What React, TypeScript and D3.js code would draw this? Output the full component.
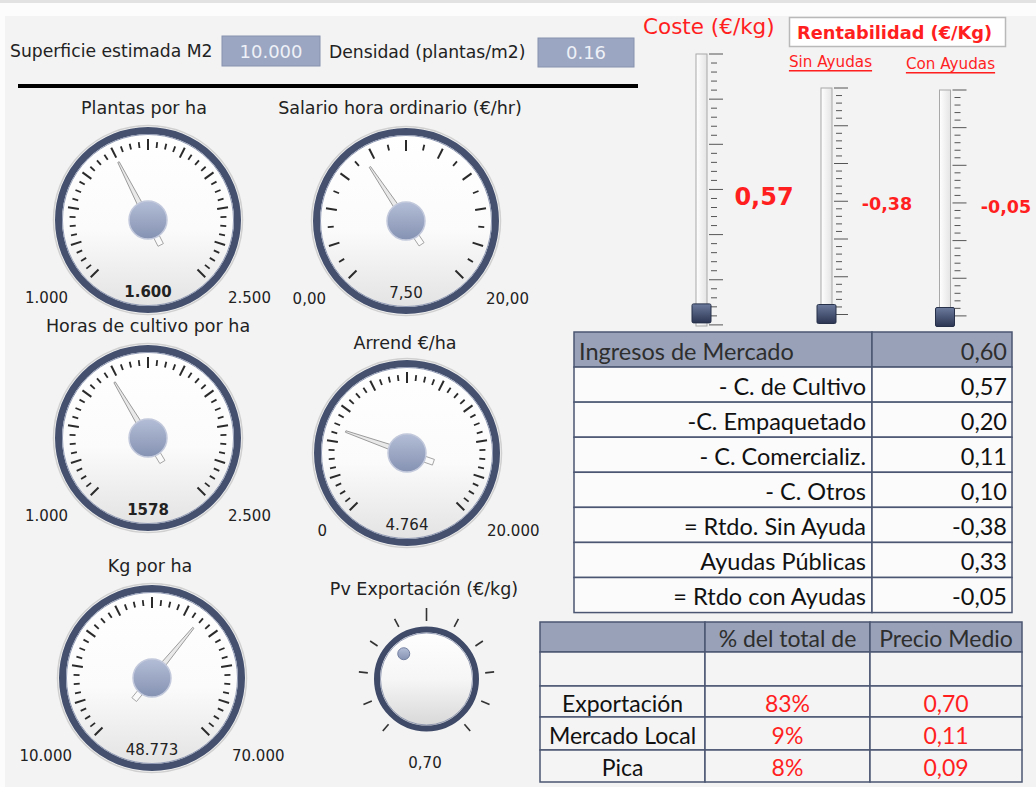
import React, { useEffect } from "react";
import * as d3 from "d3";

// ---------- locale ----------
const es = d3.formatLocale({ decimal: ",", thousands: ".", grouping: [3], currency: ["", " €"], minus: "-" } as any);

// ---------- data ----------
const inputLabels = ["Superficie estimada M2", "Densidad (plantas/m2)"];
const inputValues = ["10.000", "0.16"];

const gaugeTitles = ["Plantas por ha", "Salario hora ordinario (€/hr)", "Horas de cultivo por ha", "Arrend €/ha", "Kg por ha"];
const gaugeMin = [1000, 0, 1000, 0, 10000];
const gaugeMax = [2500, 20, 2500, 20000, 70000];
const gaugeValues = [1600, 7.5, 1578, 4764, 48773];
const gaugeRangeFormat = [",.0f", ",.2f", ",.0f", ",.0f", ",.0f"];
const gaugeValueFormat = [",.0f", ",.2f", ".0f", ",.0f", ",.0f"];
const gaugeValueBold = [true, false, true, false, false];
const gaugeTickCount = [40, 20, 40, 40, 40];

const knobTitle = "Pv Exportación (€/kg)";
const knobDomain = [0, 2];
const knobValue = 0.7;

const sliderTitle = "Coste (€/kg)";
const rentTitle = "Rentabilidad (€/Kg)";
const sliderLabels = ["", "Sin Ayudas", "Con Ayudas"];
const sliderValues = [0.57, -0.38, -0.05];
const sliderDomain = [0, 40];

const resultLabels = ["Ingresos de Mercado", "- C. de Cultivo", "-C. Empaquetado", "- C. Comercializ.", "- C. Otros", "= Rtdo. Sin Ayuda", "Ayudas Públicas", "= Rtdo con Ayudas"];
const resultValues = [0.6, 0.57, 0.2, 0.11, 0.1, -0.38, 0.33, -0.05];

const marketHeaders = ["", "% del total de", "Precio Medio"];
const marketLabels = ["Exportación", "Mercado Local", "Pica"];
const marketShares = [0.83, 0.09, 0.08];
const marketPrices = [0.7, 0.11, 0.09];

// ---------- layout ----------
const W = 1036, H = 787;
const gaugeLayout = [
  { cx: 148, cy: 220, tx: 144, ty: 108 },
  { cx: 406, cy: 221, tx: 400, ty: 108 },
  { cx: 148, cy: 438, tx: 148, ty: 326 },
  { cx: 407, cy: 453, tx: 405, ty: 343 },
  { cx: 152, cy: 678, tx: 150, ty: 566 },
];
const sliderLayout = [
  { x: 696, top: 54, bottom: 326, spacing: 9.03 },
  { x: 821, top: 88, bottom: 323, spacing: 7.55 },
  { x: 939.5, top: 90, bottom: 326, spacing: 7.53 },
];
const sliderValueLayout = [
  { x: 764, y: 197, size: 24 },
  { x: 887, y: 204, size: 17.5 },
  { x: 1006, y: 207, size: 17.5 },
];

const SANS = "'DejaVu Sans', Verdana, sans-serif";
const TAB = "Lato, 'Open Sans', sans-serif";
const RED = "#ff1f1f";
const NAVY = "#44506e";
const TITLE_SIZE = 17.5;
const NUM_SIZE = 15;

const rad = (a: number) => (a * Math.PI) / 180;

function Gauge({ i }: { i: number }) {
  const { cx, cy, tx, ty } = gaugeLayout[i];
  const R = 93;
  const ang = d3.scaleLinear().domain([gaugeMin[i], gaugeMax[i]]).range([-135, 135]);
  const n = gaugeTickCount[i];
  const majorEvery = n / 10;
  const ticks = d3.range(n + 1).map((k) => gaugeMin[i] + ((gaugeMax[i] - gaugeMin[i]) * k) / n);
  const pt = (a: number, r: number) => [cx + r * Math.sin(rad(a)), cy - r * Math.cos(rad(a))];
  const fmtR = es.format(gaugeRangeFormat[i]);
  const fmtV = es.format(gaugeValueFormat[i]);
  return (
    <g>
      <text x={tx} y={ty} textAnchor="middle" dominantBaseline="central" fontFamily={SANS} fontSize={TITLE_SIZE} fill="#222">
        {gaugeTitles[i]}
      </text>
      <circle cx={cx} cy={cy} r={R + 1.5} fill="none" stroke="#d0d0d0" strokeWidth={1.5} />
      <circle cx={cx} cy={cy} r={R - 3.5} fill="url(#faceGrad)" stroke={NAVY} strokeWidth={7} />
      <circle cx={cx} cy={cy} r={R - 7.5} fill="none" stroke="#8e98b2" strokeWidth={1} />
      {ticks.map((v, k) => {
        const major = k % majorEvery === 0;
        const a = ang(v);
        const [x1, y1] = pt(a, major ? 70 : 72.5);
        const [x2, y2] = pt(a, major ? 81 : 78.5);
        return <line key={k} x1={x1} y1={y1} x2={x2} y2={y2} stroke="#2a2a2a" strokeWidth={major ? 2 : 1.8} />;
      })}
      <g transform={`translate(${cx},${cy}) rotate(${ang(gaugeValues[i])})`}>
        <rect x={-3} y={0} width={6} height={28} fill="#fafafa" stroke="#9a9a9a" strokeWidth={0.8} />
        <path d="M -0.8,-65 L 0.8,-65 L 3.2,0 L -3.2,0 Z" fill="#e9e9e9" stroke="#909090" strokeWidth={0.8} />
      </g>
      <circle cx={cx} cy={cy} r={19} fill="url(#hubGrad)" stroke="#c3c9dc" strokeWidth={1.5} />
      <text x={cx} y={cy + 72} textAnchor="middle" dominantBaseline="central" fontFamily={SANS} fontSize={NUM_SIZE} fontWeight={gaugeValueBold[i] ? "bold" : "normal"} fill="#222">
        {fmtV(gaugeValues[i])}
      </text>
      <text x={cx - 80} y={cy + 78} textAnchor="end" dominantBaseline="central" fontFamily={SANS} fontSize={NUM_SIZE} fill="#222">
        {fmtR(gaugeMin[i])}
      </text>
      <text x={cx + 80} y={cy + 78} textAnchor="start" dominantBaseline="central" fontFamily={SANS} fontSize={NUM_SIZE} fill="#222">
        {fmtR(gaugeMax[i])}
      </text>
    </g>
  );
}

function Knob() {
  const cx = 426.5, cy = 679, R = 52.5;
  const ang = d3.scaleLinear().domain(knobDomain).range([-140, 140]);
  const tickAngles = d3.range(11).map((k) => -140 + 28 * k);
  const pt = (a: number, r: number) => [cx + r * Math.sin(rad(a)), cy - r * Math.cos(rad(a))];
  const [dx, dy] = pt(ang(knobValue), 34);
  return (
    <g>
      <text x={424} y={589} textAnchor="middle" dominantBaseline="central" fontFamily={SANS} fontSize={TITLE_SIZE} fill="#222">
        {knobTitle}
      </text>
      {tickAngles.map((a, k) => {
        const top = Math.abs(a) < 1;
        const [x1, y1] = pt(a, top ? 58 : 59);
        const [x2, y2] = pt(a, top ? 71 : 68);
        return <line key={k} x1={x1} y1={y1} x2={x2} y2={y2} stroke="#333" strokeWidth={1.6} />;
      })}
      <circle cx={cx} cy={cy} r={R - 3} fill="url(#knobGrad)" stroke="#3e4a68" strokeWidth={6} />
      <circle cx={cx} cy={cy} r={R - 6.5} fill="none" stroke="#7d88a5" strokeWidth={0.8} />
      <circle cx={dx} cy={dy} r={6} fill="url(#hubGrad)" stroke="#7380a0" strokeWidth={1} />
      <text x={425} y={763} textAnchor="middle" dominantBaseline="central" fontFamily={SANS} fontSize={NUM_SIZE} fill="#222">
        {es.format(",.2f")(knobValue)}
      </text>
    </g>
  );
}

function Slider({ i }: { i: number }) {
  const { x, top, bottom, spacing } = sliderLayout[i];
  const tw = 11;
  const y = d3.scaleLinear().domain(sliderDomain).range([bottom - 9, top + 9]).clamp(true);
  const ticks = d3.range(31);
  const ty = y(sliderValues[i]);
  const vl = sliderValueLayout[i];
  return (
    <g>
      <rect x={x} y={top} width={tw} height={bottom - top} fill="url(#trackGrad)" stroke="#a8a8a8" strokeWidth={1} />
      {ticks.map((k) => {
        const major = k % 5 === 0;
        const yy = top + k * spacing;
        return (
          <line key={k} x1={x + tw + (major ? 2 : 4)} x2={x + tw + (major ? 16 : 10)} y1={yy} y2={yy} stroke="#555" strokeWidth={1} />
        );
      })}
      <rect x={x + tw / 2 - 9.5} y={ty - 9.5} width={19} height={19} rx={1.5} fill="url(#thumbGrad)" stroke="#27314a" strokeWidth={1} />
      <text x={vl.x} y={vl.y} textAnchor="middle" dominantBaseline="central" fontFamily={SANS} fontWeight="bold" fontSize={vl.size} fill={RED}>
        {es.format(",.2f")(sliderValues[i])}
      </text>
    </g>
  );
}

function ResultTable() {
  const x0 = 574, x1 = 872, x2 = 1012, y0 = 332, rh = 35.07;
  const fmt = es.format(",.2f");
  return (
    <g>
      {resultLabels.map((lab, k) => {
        const yy = y0 + k * rh;
        const head = k === 0;
        return (
          <g key={k}>
            <rect x={x0} y={yy} width={x1 - x0} height={rh} fill={head ? "#98a1b8" : "#fbfbfb"} stroke="#4b5672" strokeWidth={1.5} />
            <rect x={x1} y={yy} width={x2 - x1} height={rh} fill={head ? "#98a1b8" : "#fbfbfb"} stroke="#4b5672" strokeWidth={1.5} />
            <text x={head ? x0 + 5 : x1 - 6} y={yy + rh / 2 + 1} textAnchor={head ? "start" : "end"} dominantBaseline="central" fontFamily={TAB} fontSize={23.5} fill={head ? "#2e2e2e" : "#111"}>
              {lab}
            </text>
            <text x={x2 - 5} y={yy + rh / 2 + 1} textAnchor="end" dominantBaseline="central" fontFamily={TAB} fontSize={23.5} fill={head ? "#2e2e2e" : "#111"}>
              {fmt(resultValues[k])}
            </text>
          </g>
        );
      })}
    </g>
  );
}

function MarketTable() {
  const cols = [540, 705, 870, 1022];
  const rows = [622, 652, 686, 717, 750, 782];
  const fmtP = es.format(".0%");
  const fmtV = es.format(",.2f");
  const cells: { r: number; c: number; text: string; color: string }[] = [];
  marketHeaders.forEach((h, c) => cells.push({ r: 0, c, text: h, color: "#2e2e2e" }));
  marketLabels.forEach((l, k) => {
    cells.push({ r: k + 2, c: 0, text: l, color: "#111" });
    cells.push({ r: k + 2, c: 1, text: fmtP(marketShares[k]), color: RED });
    cells.push({ r: k + 2, c: 2, text: fmtV(marketPrices[k]), color: RED });
  });
  return (
    <g>
      {d3.range(5).map((r) =>
        d3.range(3).map((c) => (
          <rect key={`${r}-${c}`} x={cols[c]} y={rows[r]} width={cols[c + 1] - cols[c]} height={rows[r + 1] - rows[r]} fill={r === 0 ? "#98a1b8" : "#f4f4f4"} stroke="#4b5672" strokeWidth={1.5} />
        ))
      )}
      {cells.map((cl, k) => (
        <text key={k} x={(cols[cl.c] + cols[cl.c + 1]) / 2} y={(rows[cl.r] + rows[cl.r + 1]) / 2 + 1} textAnchor="middle" dominantBaseline="central" fontFamily={TAB} fontSize={23} fill={cl.color}>
          {cl.text}
        </text>
      ))}
    </g>
  );
}

export default function App() {
  useEffect(() => {
    document.body.style.margin = "0";
  }, []);
  return (
    <svg width={W} height={H} style={{ position: "absolute", left: 0, top: 0, display: "block" }}>
      <defs>
        <linearGradient id="faceGrad" x1="0" y1="0" x2="0" y2="1">
          <stop offset="0" stopColor="#ffffff" />
          <stop offset="0.55" stopColor="#fbfbfb" />
          <stop offset="1" stopColor="#e2e2e2" />
        </linearGradient>
        <linearGradient id="knobGrad" x1="0" y1="0" x2="0" y2="1">
          <stop offset="0" stopColor="#ffffff" />
          <stop offset="0.5" stopColor="#f6f6f6" />
          <stop offset="1" stopColor="#d6d6d6" />
        </linearGradient>
        <linearGradient id="hubGrad" x1="0" y1="0" x2="0" y2="1">
          <stop offset="0" stopColor="#b3bdd6" />
          <stop offset="1" stopColor="#8592b2" />
        </linearGradient>
        <linearGradient id="trackGrad" x1="0" y1="0" x2="1" y2="0">
          <stop offset="0" stopColor="#ffffff" />
          <stop offset="1" stopColor="#e4e4e4" />
        </linearGradient>
        <linearGradient id="thumbGrad" x1="0" y1="0" x2="0" y2="1">
          <stop offset="0" stopColor="#6c7a9c" />
          <stop offset="1" stopColor="#2c3653" />
        </linearGradient>
      </defs>
      <rect x={0} y={0} width={W} height={H} fill="#fcfcfc" />
      <rect x={0} y={0} width={W} height={3} fill="#e2e2e2" />
      <rect x={5} y={16} width={W - 5} height={H - 16} fill="#f3f3f3" />

      {/* top inputs */}
      <text x={10} y={51} dominantBaseline="central" fontFamily={SANS} fontSize={17.2} fill="#222">{inputLabels[0]}</text>
      <rect x={222} y={36} width={98} height={30} fill="#9ba6c2" stroke="#8792ae" />
      <text x={271} y={51} textAnchor="middle" dominantBaseline="central" fontFamily={SANS} fontSize={18} fill="#eef1f7">{inputValues[0]}</text>
      <text x={329} y={52} dominantBaseline="central" fontFamily={SANS} fontSize={17.2} fill="#222">{inputLabels[1]}</text>
      <rect x={538} y={38} width={96} height={29} fill="#9ba6c2" stroke="#8792ae" />
      <text x={586} y={52} textAnchor="middle" dominantBaseline="central" fontFamily={SANS} fontSize={18} fill="#eef1f7">{inputValues[1]}</text>
      <rect x={18} y={84} width={620} height={4} fill="#000" />

      {gaugeTitles.map((_, i) => <Gauge key={i} i={i} />)}
      <Knob />

      {/* right panel */}
      <text x={643} y={26} dominantBaseline="central" fontFamily={SANS} fontSize={21.5} fill={RED}>{sliderTitle}</text>
      <rect x={789.5} y={17.5} width={216} height={29} fill="#ffffff" stroke="#b9b9b9" strokeWidth={1.5} />
      <text x={797} y={32} dominantBaseline="central" fontFamily={SANS} fontWeight="bold" fontSize={17.8} fill={RED}>{rentTitle}</text>
      <text x={830.5} y={62} textAnchor="middle" dominantBaseline="central" fontFamily={SANS} fontSize={15.2} fill={RED} textDecoration="underline">{sliderLabels[1]}</text>
      <text x={950.5} y={64} textAnchor="middle" dominantBaseline="central" fontFamily={SANS} fontSize={15.2} fill={RED} textDecoration="underline">{sliderLabels[2]}</text>
      {sliderValues.map((_, i) => <Slider key={i} i={i} />)}

      <ResultTable />
      <MarketTable />
    </svg>
  );
}
